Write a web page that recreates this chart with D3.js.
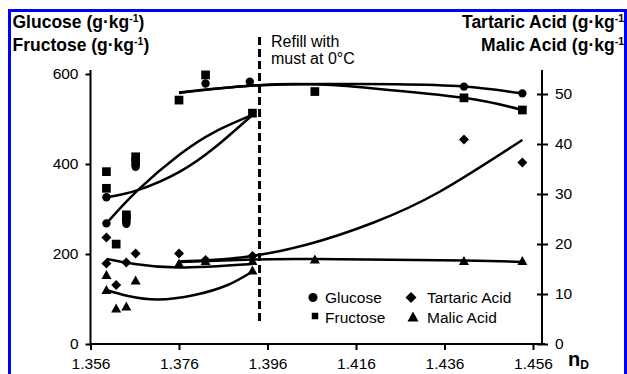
<!DOCTYPE html>
<html lang="en">
<head>
<meta charset="UTF-8">
<title>Sugars and acids vs nD</title>
<script src="https://d3js.org/d3.v7.min.js"></script>
<style>
  body { margin: 0; background: #fff; }
  svg { display: block; font-family: "Liberation Sans", Arial, sans-serif; }
  .axis path { display: none; }
  .axis line, .frame { stroke: #000; stroke-width: 2; }
  .axis text { font-size: 15.5px; fill: #000; }
  .trend { fill: none; stroke: #000; stroke-width: 2.5; }
  .title { font-size: 17.5px; font-weight: bold; }
</style>
</head>
<body>
<svg id="chart" width="627" height="374"></svg>
<script>
// measured points, [nD, g/kg]
var glucose = [[1.3596,326],[1.3596,268],[1.3641,267],[1.3662,394],[1.382,579],[1.392,583],[1.4404,572],[1.4536,557]];
var fructose = [[1.3596,383],[1.3596,346],[1.3618,222],[1.3641,287],[1.3641,279],[1.3662,416],[1.3662,405],
                [1.376,542],[1.382,598],[1.3926,513],[1.4067,561],[1.4404,547],[1.4536,520]];
var tartaric = [[1.3596,21.3],[1.3596,16.1],[1.3618,11.8],[1.3641,16.3],[1.3662,18.1],[1.376,18.1],[1.382,16.8],
                [1.3926,17.6],[1.4404,40.9],[1.4536,36.3]];
var malic = [[1.3596,13.8],[1.3596,10.8],[1.3618,7.1],[1.3641,7.5],[1.3662,12.7],[1.376,16.1],[1.382,16.6],
             [1.3926,14.7],[1.3926,16.6],[1.4067,16.9],[1.4404,16.6],[1.4536,16.6]];

// trend lines
var sugarTrend1a = [[1.3596,326],[1.3667,342],[1.376,382],[1.384,436],[1.3926,509]];
var sugarTrend1b = [[1.3596,268],[1.3667,342],[1.376,420],[1.384,471],[1.3926,509]];
var glucoseTrend2 = [[1.376,559],[1.392,574],[1.408,578],[1.425,577],[1.4404,572],[1.4536,557]];
var fructoseTrend2 = [[1.376,558],[1.392,574],[1.4067,577],[1.42,568],[1.4404,547],[1.4536,520]];
var acidTrend1a = [[1.3596,17.0],[1.366,16.0],[1.376,15.3],[1.3926,16.0]];
var acidTrend1b = [[1.3596,10.8],[1.3645,9.6],[1.3713,8.9],[1.3795,9.8],[1.387,11.8],[1.3926,14.5]];
var tartaricTrend2 = [[1.376,16.5],[1.39,17.3],[1.405,19.9],[1.42,24.3],[1.435,30.5],[1.4536,40.8]];
var malicTrend2 = [[1.376,16.4],[1.3926,16.9],[1.4067,17.0],[1.4404,16.7],[1.4536,16.4]];

var xTicks = [1.356, 1.376, 1.396, 1.416, 1.436, 1.456];
var leftTicks = [0, 200, 400, 600];
var rightTicks = [0, 10, 20, 30, 40, 50];
var refillAt = 1.3942;

const svg = d3.select("#chart");

const x = d3.scaleLinear().domain([1.356, 1.456]).range([90.5, 533]);
const yL = d3.scaleLinear().domain([0, 600]).range([344, 74]);
const yR = d3.scaleLinear().domain([0, 50]).range([344, 94]);

// axes
svg.append("g").attr("class", "axis").attr("transform", "translate(0,344)")
   .call(d3.axisBottom(x).tickValues(xTicks).tickFormat(d3.format(".3f")).tickSize(6).tickPadding(7.5));
svg.append("g").attr("class", "axis").attr("transform", "translate(90.5,0)")
   .call(d3.axisLeft(yL).tickValues(leftTicks).tickSize(5).tickPadding(7));
const rAxis = svg.append("g").attr("class", "axis").attr("transform", "translate(542,0)")
   .call(d3.axisRight(yR).tickValues(rightTicks).tickSize(6).tickPadding(7));
rAxis.selectAll(".tick line").attr("x1", -5);

svg.append("line").attr("class", "frame").attr("x1", 90.5).attr("x2", 90.5).attr("y1", 70).attr("y2", 345);
svg.append("line").attr("class", "frame").attr("x1", 542).attr("x2", 542).attr("y1", 70).attr("y2", 345);
svg.append("line").attr("class", "frame").attr("x1", 89.5).attr("x2", 545).attr("y1", 344).attr("y2", 344);

// refill marker
svg.append("line")
   .attr("x1", x(refillAt)).attr("x2", x(refillAt))
   .attr("y1", yL(682)).attr("y2", yL(42))
   .attr("stroke", "#000").attr("stroke-width", 3).attr("stroke-dasharray", "8,4");
svg.append("text").attr("x", 271).attr("y", 46.5).style("font-size", "16px").text("Refill with");
svg.append("text").attr("x", 271).attr("y", 63.5).style("font-size", "16px").text("must at 0°C");

// trend lines
const lineL = d3.line().x(d => x(d[0])).y(d => yL(d[1])).curve(d3.curveNatural);
const lineR = d3.line().x(d => x(d[0])).y(d => yR(d[1])).curve(d3.curveNatural);
[sugarTrend1a, sugarTrend1b, glucoseTrend2, fructoseTrend2].forEach(function(t) {
    svg.append("path").attr("class", "trend").attr("d", lineL(t));
});
[acidTrend1a, acidTrend1b, tartaricTrend2, malicTrend2].forEach(function(t) {
    svg.append("path").attr("class", "trend").attr("d", lineR(t));
});

// markers
const circlePath = d3.symbol(d3.symbolCircle, 55)();
const squarePath = d3.symbol(d3.symbolSquare, 76)();
const diamondPath = "M0,-5L5,0L0,5L-5,0Z";
const trianglePath = "M0,-5L5,4L-5,4Z";

function drawPoints(data, y, shape) {
    svg.append("g").selectAll("path").data(data).enter().append("path")
       .attr("d", shape)
       .attr("transform", d => `translate(${x(d[0])},${y(d[1])})`)
       .attr("fill", "#000");
}
drawPoints(tartaric, yR, diamondPath);
drawPoints(malic, yR, trianglePath);
drawPoints(glucose, yL, circlePath);
drawPoints(fructose, yL, squarePath);

// legend
const legend = svg.append("g").style("font-size", "15.5px");
legend.append("path").attr("d", d3.symbol(d3.symbolCircle, 64)()).attr("transform", "translate(313,297.5)");
legend.append("text").attr("x", 325).attr("y", 303).text("Glucose");
legend.append("path").attr("d", d3.symbol(d3.symbolSquare, 42)()).attr("transform", "translate(315,316)");
legend.append("text").attr("x", 325).attr("y", 323).text("Fructose");
legend.append("path").attr("d", "M0,-5.5L5.5,0L0,5.5L-5.5,0Z").attr("transform", "translate(411,297.5)");
legend.append("text").attr("x", 427).attr("y", 303).text("Tartaric Acid");
legend.append("path").attr("d", "M0,-5.5L5.5,4.5L-5.5,4.5Z").attr("transform", "translate(413,317)");
legend.append("text").attr("x", 427).attr("y", 323).text("Malic Acid");

// axis titles (right ones run into the frame in the original, closing bracket hidden)
function unitTitle(xPos, yPos, name, anchor, close) {
    const t = svg.append("text").attr("class", "title").attr("x", xPos).attr("y", yPos)
                 .attr("text-anchor", anchor);
    t.append("tspan").text(name + " (g·kg");
    t.append("tspan").attr("dy", -6).style("font-size", "10.5px").text("-1");
    if (close) t.append("tspan").attr("dy", 6).text(")");
}
unitTitle(12.5, 28, "Glucose", "start", true);
unitTitle(12.5, 51, "Fructose", "start", true);
unitTitle(624, 27.5, "Tartaric Acid", "end", false);
unitTitle(624, 50.5, "Malic Acid", "end", false);

const nd = svg.append("text").attr("x", 568).attr("y", 366).style("font-weight", "bold");
nd.append("tspan").style("font-size", "20px").text("n");
nd.append("tspan").attr("dy", 3).style("font-size", "12px").text("D");

// blue frame
svg.append("rect").attr("x", 9.5).attr("y", 10.5).attr("width", 616).attr("height", 380)
   .attr("fill", "none").attr("stroke", "#0000ff").attr("stroke-width", 3);
</script>
</body>
</html>
